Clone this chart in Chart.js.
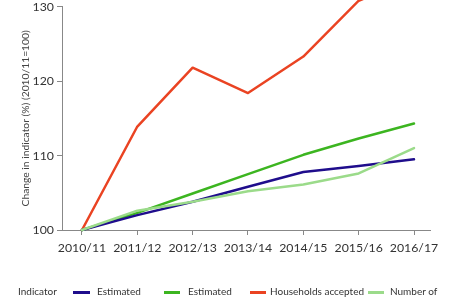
<!DOCTYPE html>
<html>
<head>
<meta charset="utf-8">
<script src="https://cdn.jsdelivr.net/npm/chart.js@4/dist/chart.umd.min.js"></script>
<style>
  html, body { margin: 0; padding: 0; background: #fff; }
  #wrap { position: relative; width: 450px; height: 300px; overflow: hidden; font-family: Lato, "Open Sans", sans-serif; color: #333; }
  #c { position: absolute; left: 0; top: 0; }
  .lg { position: absolute; top: 285px; font-size: 10px; line-height: 12px; white-space: nowrap; }
  .sw { position: absolute; top: 291px; height: 3px; }
</style>
</head>
<body>
<div id="wrap">
  <canvas id="c" width="450" height="300"></canvas>
  <div class="lg" style="left:18px">Indicator</div>
  <div class="sw" style="left:73px;width:17px;background:#1f0d8c"></div>
  <div class="lg" style="left:97px">Estimated<br>average earnings</div>
  <div class="sw" style="left:164px;width:16px;background:#3cb520"></div>
  <div class="lg" style="left:188px">Estimated<br>private rents</div>
  <div class="sw" style="left:250px;width:16px;background:#ea4322"></div>
  <div class="lg" style="left:270px">Households accepted<br>as homeless</div>
  <div class="sw" style="left:368px;width:16px;background:#9bdb8a"></div>
  <div class="lg" style="left:390px">Number of<br>children</div>
</div>
<script>
const categories = ["2010/11","2011/12","2012/13","2013/14","2014/15","2015/16","2016/17"];
const yTicks = [100, 110, 120, 130];
const seriesNames = ["Estimated average earnings", "Estimated private rents", "Households accepted as homeless", "Number of children"];
const blueValues = [100, 102.0, 103.8, 105.8, 107.8, 108.6, 109.5];
const greenValues = [100, 102.3, 104.9, 107.5, 110.1, 112.3, 114.3];
const redValues = [100, 113.9, 121.8, 118.4, 123.3, 130.8, 133.8];
const lightGreenValues = [100, 102.6, 103.8, 105.2, 106.1, 107.6, 111.0];
const colors = ["#1f0d8c", "#3cb520", "#ea4322", "#9bdb8a"];

const toPts = arr => arr.map((v, i) => ({x: i, y: v}));
const mk = (label, arr, color) => ({
  label, data: toPts(arr), borderColor: color, backgroundColor: color,
  borderWidth: 2.5, pointRadius: 0, tension: 0, clip: false,
  borderCapStyle: 'round', borderJoinStyle: 'round'
});

new Chart(document.getElementById('c'), {
  type: 'line',
  data: {
    datasets: [
      mk(seriesNames[3], lightGreenValues, colors[3]),
      mk(seriesNames[0], blueValues, colors[0]),
      mk(seriesNames[1], greenValues, colors[1]),
      mk(seriesNames[2], redValues, colors[2])
    ]
  },
  options: {
    responsive: false,
    animation: false,
    layout: { padding: { top: 3, right: 20, left: 0, bottom: 0 } },
    plugins: { legend: { display: false }, tooltip: { enabled: false } },
    scales: {
      x: {
        type: 'linear',
        min: -0.361, max: 6.289,
        afterBuildTicks: s => { s.ticks = categories.map((_, i) => ({value: i})); },
        afterFit: s => { s.height = 70; },
        ticks: {
          callback: v => categories[v] ?? '',
          color: '#333', font: { family: 'Lato', size: 12.3 }, padding: 6, maxRotation: 0, autoSkip: false
        },
        grid: { display: true, drawOnChartArea: false, drawTicks: true, tickLength: 5, color: '#888' },
        border: { color: '#888', width: 1 }
      },
      y: {
        min: 100, max: 130,
        afterBuildTicks: s => { s.ticks = yTicks.map(v => ({value: v})); },
        afterFit: s => { s.width = 62; },
        ticks: { color: '#333', font: { family: 'Lato', size: 12.3, lineHeight: 0.6 }, padding: 3 },
        grid: { display: true, drawOnChartArea: false, drawTicks: true, tickLength: 5, color: '#888' },
        border: { color: '#888', width: 1 },
        title: { display: true, text: 'Change in indicator (%) (2010/11=100)', color: '#444', font: { family: 'Lato', size: 10.3 }, padding: { top: 19, bottom: 0 } }
      }
    }
  }
});
</script>
</body>
</html>
